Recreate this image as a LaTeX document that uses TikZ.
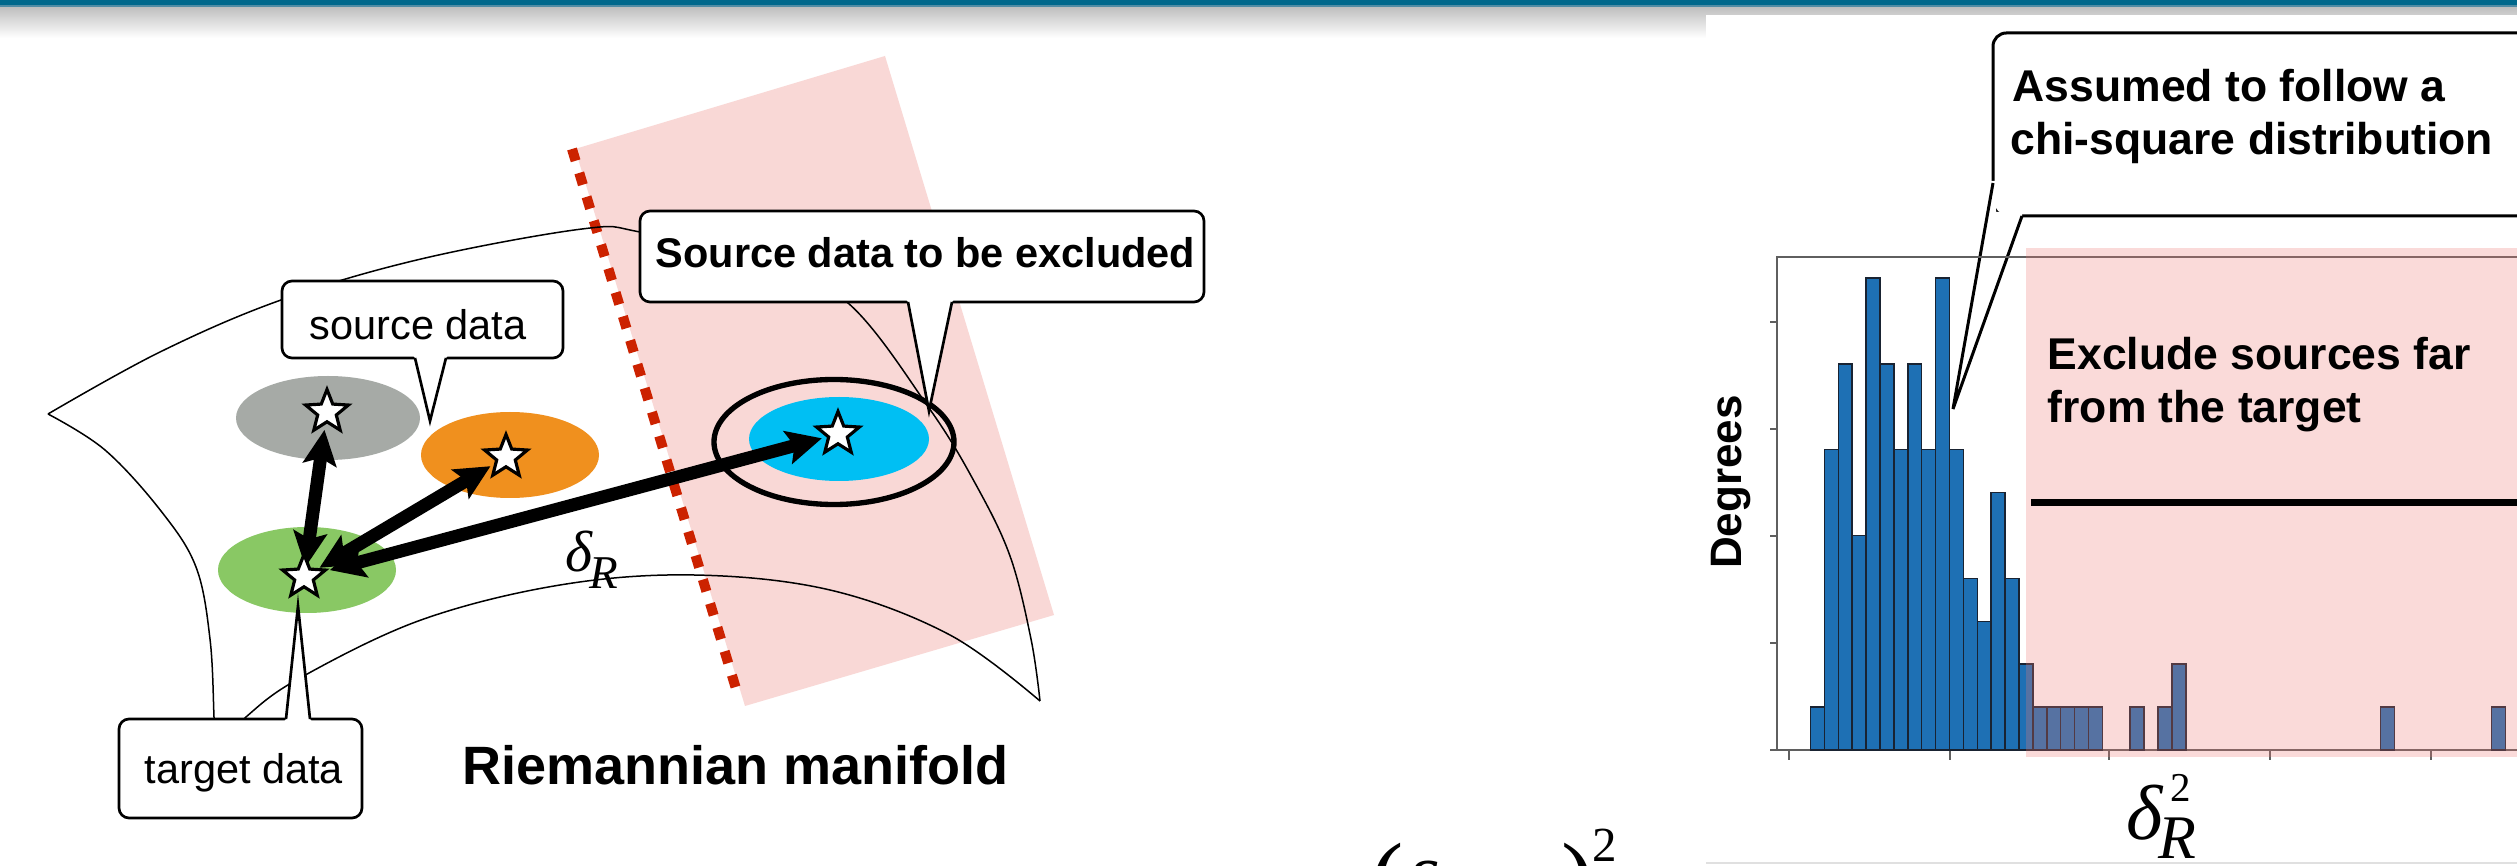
\documentclass[tikz,border=0pt]{standalone}
\usepackage{fontspec}
\setmainfont{Liberation Sans}
\newfontfamily\seriffont{Liberation Serif}
\usetikzlibrary{shapes.geometric,arrows.meta}
\definecolor{topbar}{RGB}{0,104,140}
\definecolor{topline}{RGB}{80,140,165}
\definecolor{pinkL}{RGB}{249,216,214}
\definecolor{pinkH}{RGB}{240,120,115}
\definecolor{dashred}{RGB}{204,34,0}
\definecolor{ellgray}{RGB}{166,170,166}
\definecolor{ellorange}{RGB}{240,144,30}
\definecolor{ellgreen}{RGB}{137,200,100}
\definecolor{ellcyan}{RGB}{0,191,243}
\definecolor{barblue}{RGB}{30,112,180}
\definecolor{baredge}{RGB}{25,35,50}
\definecolor{framegray}{RGB}{95,95,95}
\begin{document}
\begin{tikzpicture}[x=0.3pt,y=-0.3pt,
  manif/.style={line width=0.45pt, draw=black},
  blob/.style={ellipse, inner sep=0, draw=none},
  starnode/.style={star, star points=5, star point ratio=2.3, minimum size=13.5pt, inner sep=0, fill=white, draw=black, line width=0.95pt},
  bigarrow/.style={line width=3.9pt, {Stealth[length=10.5pt,width=10pt,inset=2pt]}-{Stealth[length=10.5pt,width=10pt,inset=2pt]}},
  callbox/.style={draw=black, fill=white, line width=0.8pt, rounded corners=3pt},
  callptr/.style={draw=black, line width=0.8pt, line join=miter},
  regtext/.style={inner sep=0, anchor=base west, font=\fontsize{12.45pt}{15pt}\selectfont},
  boldtext/.style={inner sep=0, anchor=base west, font=\fontsize{13.35pt}{16pt}\selectfont\bfseries},
  mathit/.style={inner sep=0, anchor=base west},
  bar/.style={fill=barblue, draw=baredge, line width=0.45pt},
  axtick/.style={draw=framegray, line width=0.6pt}
]
\clip (0,0) rectangle (2517,866);
\fill[white] (0,0) rectangle (2517,866);
% header
\shade[top color=black!26, bottom color=white] (0,6) rectangle (2517,38);
\fill[topbar] (0,0) rectangle (2517,5.5);
\fill[topline] (0,5.5) rectangle (2517,6.8);

% ---------- left panel ----------
\fill[pinkL] (575,149) -- (885,56) -- (1054,615) -- (745,706) -- cycle;
\draw[dashred, line width=3pt, dash pattern=on 3.7pt off 3.8pt] (572,149) -- (737,692);

\draw[manif] plot[smooth, tension=0.6] coordinates {(48,414) (160,352) (281,300) (421,259) (582,229) (640,232) (760,262) (848,303) (929,408) (975,483) (1010,556) (1031,639) (1040,701)};
\draw[manif] plot[smooth, tension=0.6] coordinates {(48,414) (105,450) (161,511) (196,567) (210,639) (214,717) (215,760)};
\draw[manif] plot[smooth, tension=0.6] coordinates {(205,760) (246,717) (300,678) (421,620) (560,585) (694,575) (830,590) (950,635) (1040,701)};

\node[blob, fill=ellgray, minimum width=55.2pt, minimum height=25.2pt] (eg) at (328,418) {};
\node[blob, fill=ellorange, minimum width=53.4pt, minimum height=25.8pt] (eo) at (510,455) {};
\node[blob, fill=ellgreen, minimum width=53.4pt, minimum height=25.8pt] (egr) at (307,570) {};
\node[blob, fill=ellcyan, minimum width=54pt, minimum height=25.2pt] (ec) at (839,439) {};
\node[ellipse, draw=black, line width=1.6pt, inner sep=0, minimum width=72pt, minimum height=37.5pt] (ring) at (834,442) {};

\coordinate (sg) at (327,412);
\coordinate (so) at (506,457);
\coordinate (st) at (304,577);
\coordinate (sc) at (838,434);
\draw[bigarrow, shorten <=3pt, shorten >=5.4pt] (st) -- (sg);
\draw[bigarrow, shorten <=5.4pt, shorten >=5.4pt] (st) -- (so);
\draw[bigarrow, shorten <=8pt, shorten >=5pt] (st) -- (sc);
\node[starnode] (stg) at (sg) {};
\node[starnode] (sto) at (so) {};
\node[starnode] (stt) at (st) {};
\node[starnode] (stc) at (sc) {};

% callouts left
\draw[callbox] (282,281) rectangle (563,358);
\fill[white] (412,354) -- (415,358) -- (430,421) -- (446,358) -- (449,354) -- cycle;
\draw[callptr] (415,358) -- (430,421) -- (446,358);
\node[regtext] (srctxt) at (309,340) {source data};

\draw[callbox] (640,211) rectangle (1204,302);
\fill[white] (905,298) -- (908,302) -- (929,411) -- (952,302) -- (955,298) -- cycle;
\draw[callptr] (908,302) -- (929,411) -- (952,302);
\node[inner sep=0, anchor=base west, font=\fontsize{12.45pt}{15pt}\selectfont\bfseries] (exctxt) at (655,268) {Source data to be excluded};

\draw[callbox] (119,719) rectangle (362,818);
\fill[white] (283,723) -- (286,719) -- (298,606) -- (310,719) -- (313,723) -- cycle;
\draw[callptr] (286,719) -- (298,606) -- (310,719);
\node[regtext] (tgttxt) at (144,783) {target data};

\node[inner sep=0, anchor=base west, font=\fontsize{16.2pt}{19pt}\selectfont\bfseries] (rmtxt) at (462,784) {Riemannian manifold};

\node[mathit, font={\seriffont\itshape\fontsize{17.4pt}{20pt}\selectfont}] (dl) at (565,572) {δ};
\node[mathit, font={\seriffont\itshape\fontsize{14.1pt}{17pt}\selectfont}] (dlR) at (589,589) {R};

% formula cut at bottom
\node[mathit, font={\seriffont\fontsize{30pt}{34pt}\selectfont}] (fpl) at (1370,912) {(};
\node[mathit, font={\seriffont\itshape\fontsize{23.4pt}{27pt}\selectfont}] (fd) at (1400,915) {δ};
\node[mathit, font={\seriffont\fontsize{30pt}{34pt}\selectfont}] (fpr) at (1561,912) {)};
\node[mathit, font={\seriffont\fontsize{14.7pt}{17pt}\selectfont}] (f2) at (1592,861) {2};

% ---------- right panel ----------
\fill[white] (1706,15) rectangle (2517,863);
\draw[black!12, line width=0.6pt] (1706,863) -- (2517,863);

\draw[callbox, rounded corners=4pt, line width=0.9pt] (1993,33) rectangle (2560,216);
\fill[white] (1990,181) -- (1953,409) -- (2022,216) -- (2022,212) -- (1996,212) -- (1996,181) -- cycle;
\draw[callptr, line width=0.9pt] (1993,183) -- (1953,409) -- (2022,216);
\node[boldtext] (as1) at (2012,102) {Assumed to follow a};
\node[boldtext] (as2) at (2010,155) {chi-square distribution};

\draw[framegray, line width=0.6pt] (2517,257) -- (1777,257) -- (1777,750);
\draw[framegray, line width=0.6pt] (1770,750) -- (2517,750);
\foreach \y in {322,429,536,643} \draw[axtick] (1770,\y) -- (1777,\y);
\foreach \x in {1789,1950,2109,2270,2431} \draw[axtick] (\x,750) -- (\x,760);

\foreach \i/\h in {0/1,1/7,2/9,3/5,4/11,5/9,6/7,7/9,8/7,9/11,10/7,11/4,12/3,13/6,14/4,15/2,16/1,17/1,18/1,19/1,20/1,23/1,25/1,26/2,41/1,49/1}
  \draw[bar] ({1810.5+\i*13.9},750) rectangle ({1810.5+(\i+1)*13.9},{750-\h*42.9});

\fill[pinkH, opacity=0.27] (2026,248) rectangle (2517,757);
\coordinate (tl1) at (2031,503);
\coordinate (tl2) at (2517,503);
\draw[line width=2.1pt] (tl1) -- (tl2);

\node[boldtext] (ex1) at (2047,370) {Exclude sources far};
\node[boldtext] (ex2) at (2047,423) {from the target};

\node[inner sep=0, anchor=base, rotate=90, font=\fontsize{13.2pt}{16pt}\selectfont\bfseries] (deg) at (1741,482) {Degrees};

\node[mathit, font={\seriffont\itshape\fontsize{23.4pt}{27pt}\selectfont}] (dr) at (2126,840) {δ};
\node[mathit, font={\seriffont\itshape\fontsize{18.6pt}{21pt}\selectfont}] (drR) at (2158,859) {R};
\node[mathit, font={\seriffont\fontsize{12.3pt}{15pt}\selectfont}] (dr2) at (2170,801) {2};
\end{tikzpicture}
\end{document}
